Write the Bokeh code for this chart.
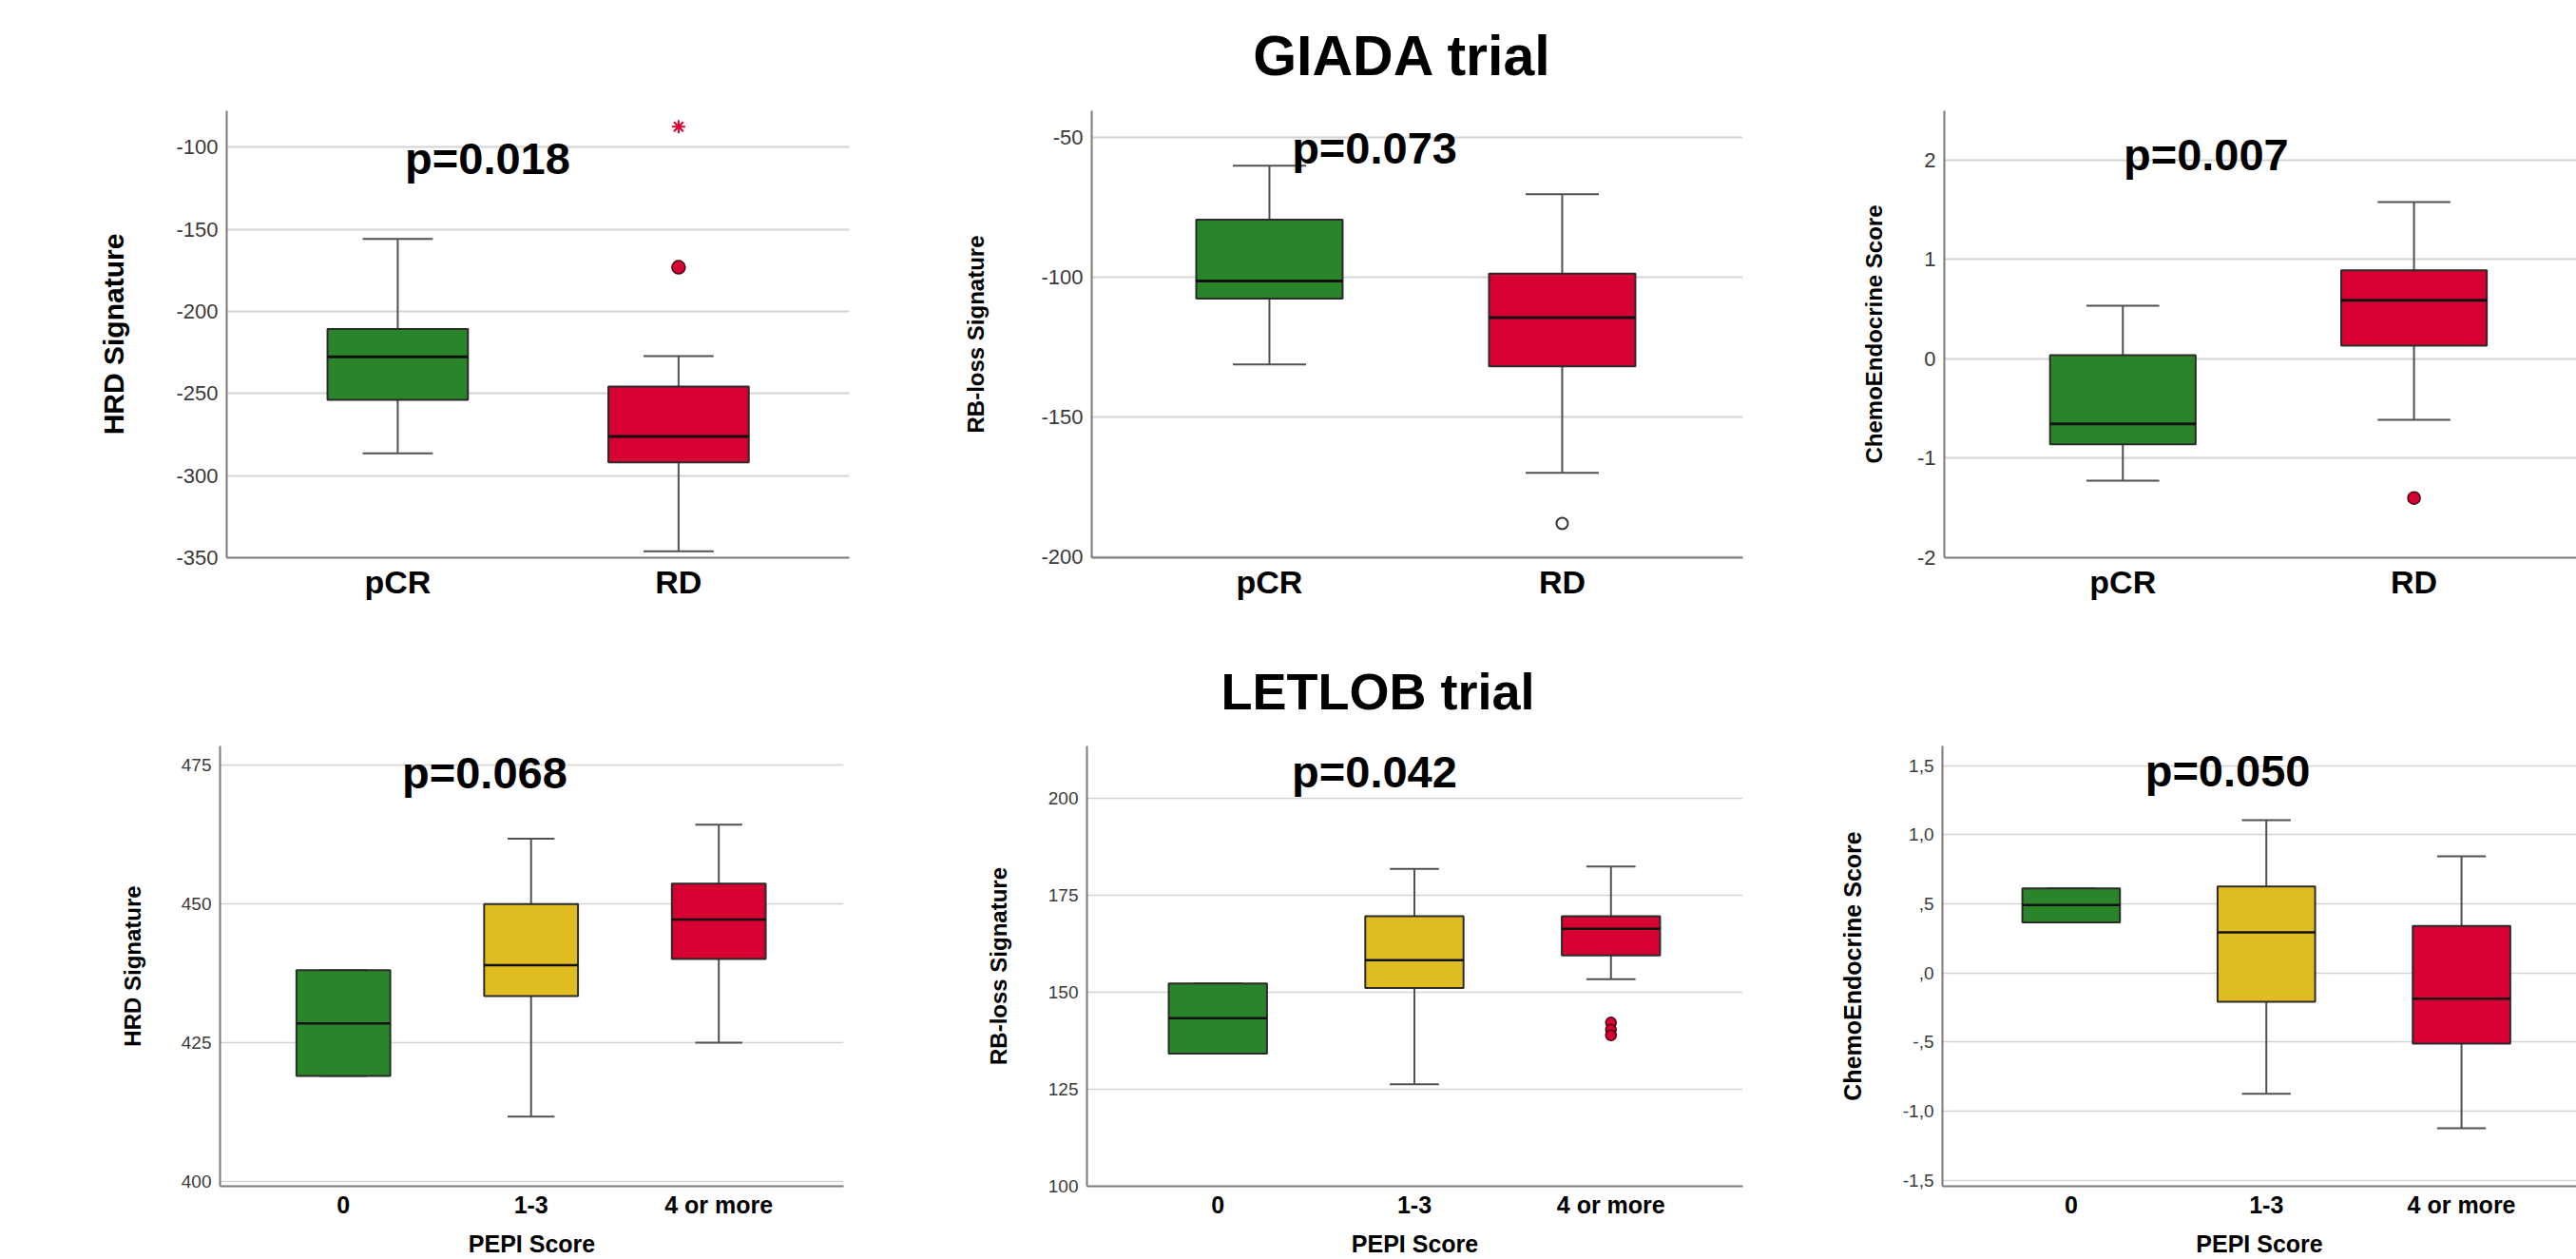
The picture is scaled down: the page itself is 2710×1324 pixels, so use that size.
import numpy as np
from bokeh.plotting import figure
from bokeh.models import Range1d, FixedTicker, Label
from bokeh.layouts import row, column
from bokeh.embed import file_html
from bokeh.resources import INLINE

# ---------------- data ----------------
giada_groups = ["pCR", "RD"]
letlob_groups = ["0", "1-3", "4 or more"]

hrd_giada_lo = [-286.5, -346.1]
hrd_giada_q1 = [-253.9, -292.0]
hrd_giada_med = [-227.7, -276.2]
hrd_giada_q3 = [-210.8, -245.8]
hrd_giada_hi = [-155.9, -227.3]
hrd_giada_out_circle = [("RD", -173.2)]
hrd_giada_out_star = [("RD", -87.6)]

rb_giada_lo = [-131.2, -170.0]
rb_giada_q1 = [-107.7, -131.9]
rb_giada_med = [-101.4, -114.5]
rb_giada_q3 = [-79.4, -98.7]
rb_giada_hi = [-60.1, -70.3]
rb_giada_out_open = [("RD", -188.1)]

ce_giada_lo = [-1.225, -0.613]
ce_giada_q1 = [-0.859, 0.132]
ce_giada_med = [-0.654, 0.589]
ce_giada_q3 = [0.036, 0.890]
ce_giada_hi = [0.535, 1.576]
ce_giada_out_circle = [("RD", -1.399)]

hrd_letlob_lo = [419.0, 411.7, 425.0]
hrd_letlob_q1 = [419.0, 433.4, 440.1]
hrd_letlob_med = [428.5, 439.0, 447.2]
hrd_letlob_q3 = [438.1, 450.0, 453.7]
hrd_letlob_hi = [438.1, 461.8, 464.3]

rb_letlob_lo = [134.2, 126.3, 153.4]
rb_letlob_q1 = [134.2, 151.1, 159.5]
rb_letlob_med = [143.3, 158.3, 166.4]
rb_letlob_q3 = [152.3, 169.6, 169.6]
rb_letlob_hi = [152.3, 181.8, 182.4]
rb_letlob_out_circle = [("4 or more", 142.2), ("4 or more", 140.4), ("4 or more", 138.9)]

ce_letlob_lo = [0.366, -0.873, -1.123]
ce_letlob_q1 = [0.366, -0.208, -0.510]
ce_letlob_med = [0.492, 0.295, -0.186]
ce_letlob_q3 = [0.613, 0.627, 0.340]
ce_letlob_hi = [0.613, 1.106, 0.844]

hrd_giada_ticks = [-350, -300, -250, -200, -150, -100]
rb_giada_ticks = [-200, -150, -100, -50]
ce_giada_ticks = [-2, -1, 0, 1, 2]
hrd_letlob_ticks = [400, 425, 450, 475]
rb_letlob_ticks = [100, 125, 150, 175, 200]
ce_letlob_ticks = [-1.5, -1.0, -0.5, 0.0, 0.5, 1.0, 1.5]
ce_letlob_tick_labels = ["-1,5", "-1,0", "-,5", ",0", ",5", "1,0", "1,5"]

p_values = ["p=0.018", "p=0.073", "p=0.007", "p=0.068", "p=0.042", "p=0.050"]
trial_titles = ["GIADA trial", "LETLOB trial"]

# ---------------- style ----------------
GREEN = "#2a852a"
RED = "#d70032"
YELLOW = "#dfbd20"
SANS = "Liberation Sans"
GRID = "#d4d4d4"
AXIS = "#7a7a7a"
TICKC = "#3a3a3a"
W_TOTAL = 2710


def key(t):
    return int(t) if float(t).is_integer() else t


def make_panel(w, h, borders, xr, yr, cats, colors, lo, q1, med, q3, hi,
               yticks, ylabels, ylabel, ylab_size, ylab_standoff,
               tick_size, cat_size, cat_standoff, xlabel=None, xlab_size=25,
               xlab_standoff=10, grid_w=2, med_w=3):
    p = figure(width=w, height=h, x_range=Range1d(*xr), y_range=Range1d(*yr),
               title=None, output_backend="svg", toolbar_location=None, tools="",
               min_border_left=borders[0], min_border_right=borders[1],
               min_border_top=borders[2], min_border_bottom=borders[3])
    p.outline_line_color = None
    p.background_fill_color = "white"
    p.border_fill_color = "white"
    p.xgrid.visible = False
    p.ygrid.ticker = FixedTicker(ticks=yticks)
    p.ygrid.grid_line_color = GRID
    p.ygrid.grid_line_width = grid_w

    idx = np.arange(len(cats), dtype=float)
    half_box = 0.25
    half_cap = 0.125

    p.segment(x0=idx, x1=idx, y0=q3, y1=hi, line_color="#505050", line_width=2)
    p.segment(x0=idx, x1=idx, y0=q1, y1=lo, line_color="#505050", line_width=2)
    p.segment(x0=idx - half_cap, x1=idx + half_cap, y0=hi, y1=hi,
              line_color="#505050", line_width=2)
    p.segment(x0=idx - half_cap, x1=idx + half_cap, y0=lo, y1=lo,
              line_color="#505050", line_width=2)
    p.vbar(x=idx, width=2 * half_box, top=q3, bottom=q1, fill_color=colors,
           line_color="#2b2b2b", line_width=2)
    p.segment(x0=idx - half_box, x1=idx + half_box, y0=med, y1=med,
              line_color="#111111", line_width=med_w)

    ya = p.yaxis[0]
    ya.ticker = FixedTicker(ticks=yticks)
    ya.major_label_overrides = {key(t): l for t, l in zip(yticks, ylabels)}
    ya.axis_label = ylabel
    ya.axis_label_text_font = SANS
    ya.axis_label_text_font_style = "bold"
    ya.axis_label_text_font_size = f"{ylab_size}px"
    ya.axis_label_text_color = "black"
    ya.axis_label_standoff = ylab_standoff
    ya.major_label_text_font = SANS
    ya.major_label_text_font_size = f"{tick_size}px"
    ya.major_label_text_color = TICKC
    ya.major_label_standoff = 9
    ya.major_tick_out = 0
    ya.major_tick_in = 0
    ya.minor_tick_out = 0
    ya.minor_tick_in = 0
    ya.axis_line_color = AXIS
    ya.axis_line_width = 2

    xa = p.xaxis[0]
    xa.ticker = FixedTicker(ticks=list(range(len(cats))))
    xa.major_label_overrides = {i: c for i, c in enumerate(cats)}
    xa.major_label_text_font = SANS
    xa.major_label_text_font_style = "bold"
    xa.major_label_text_font_size = f"{cat_size}px"
    xa.major_label_text_color = "black"
    xa.major_label_standoff = cat_standoff
    xa.major_tick_out = 0
    xa.major_tick_in = 0
    xa.minor_tick_out = 0
    xa.minor_tick_in = 0
    xa.axis_line_color = AXIS
    xa.axis_line_width = 2
    if xlabel:
        xa.axis_label = xlabel
        xa.axis_label_text_font = SANS
        xa.axis_label_text_font_style = "bold"
        xa.axis_label_text_font_size = f"{xlab_size}px"
        xa.axis_label_text_color = "black"
        xa.axis_label_standoff = xlab_standoff
    return p


def add_outliers(p, cats, pts, **kw):
    xs = [cats.index(c) for c, _ in pts]
    ys = [v for _, v in pts]
    p.scatter(x=xs, y=ys, **kw)


def add_text(p, txt, x, y, size):
    p.add_layout(Label(x=x, y=y, text=txt, text_font=SANS, text_font_style="bold",
                       text_font_size=f"{size}px", text_align="center",
                       text_baseline="alphabetic", text_color="black"))


def title_strip(h, txt, x, y, size):
    t = figure(width=W_TOTAL, height=h, x_range=Range1d(0, W_TOTAL),
               y_range=Range1d(0, h), title=None, output_backend="svg",
               toolbar_location=None, tools="",
               min_border_left=0, min_border_right=0,
               min_border_top=0, min_border_bottom=0,
               x_axis_location=None, y_axis_location=None)
    t.outline_line_color = None
    t.grid.visible = False
    t.background_fill_color = "white"
    t.border_fill_color = "white"
    add_text(t, txt, x, y, size)
    return t


g_cols = [GREEN, RED]
l_cols = [GREEN, YELLOW, RED]
P_SIZE = 47

# top row (page y 96..682); frames share top/bottom borders within a row
p1 = make_panel(1000, 586, (238, 107, 20, 96), (-0.609, 1.608), (-350, -77.9),
                giada_groups, g_cols, hrd_giada_lo, hrd_giada_q1, hrd_giada_med,
                hrd_giada_q3, hrd_giada_hi, hrd_giada_ticks,
                [str(t) for t in hrd_giada_ticks], "HRD Signature", 30, 46,
                22, 34, 6)
add_outliers(p1, giada_groups, hrd_giada_out_circle, marker="circle", size=14,
             fill_color=RED, line_color="#4a0010", line_width=1.5)
add_outliers(p1, giada_groups, hrd_giada_out_star, marker="asterisk", size=14,
             line_color=RED, line_width=2)
add_text(p1, p_values[0], 0.320, -106.6, P_SIZE)

p2 = make_panel(925, 586, (148, 92, 20, 96), (-0.607, 1.617), (-200.34, -40.5),
                giada_groups, g_cols, rb_giada_lo, rb_giada_q1, rb_giada_med,
                rb_giada_q3, rb_giada_hi, rb_giada_ticks,
                [str(t) for t in rb_giada_ticks], "RB-loss Signature", 24, 52,
                22, 34, 6)
add_outliers(p2, giada_groups, rb_giada_out_open, marker="circle", size=12,
             fill_color="white", line_color="#333333", line_width=2)
add_text(p2, p_values[1], 0.359, -53.6, P_SIZE)

p3 = make_panel(785, 586, (120, 0, 20, 96), (-0.613, 1.558), (-2, 2.495),
                giada_groups, g_cols, ce_giada_lo, ce_giada_q1, ce_giada_med,
                ce_giada_q3, ce_giada_hi, ce_giada_ticks,
                [str(t) for t in ce_giada_ticks], "ChemoEndocrine Score", 24, 29,
                22, 34, 6)
add_outliers(p3, giada_groups, ce_giada_out_circle, marker="circle", size=13,
             fill_color=RED, line_color="#4a0010", line_width=1.5)
add_text(p3, p_values[2], 0.286, 2.056, P_SIZE)

# bottom row (page y 770..1324)
p4 = make_panel(1000, 554, (231, 113, 14, 75), (-0.657, 2.665), (399.13, 478.5),
                letlob_groups, l_cols, hrd_letlob_lo, hrd_letlob_q1, hrd_letlob_med,
                hrd_letlob_q3, hrd_letlob_hi, hrd_letlob_ticks,
                [str(t) for t in hrd_letlob_ticks], "HRD Signature", 24, 35,
                19, 25, 5, xlabel="PEPI Score", grid_w=1.5, med_w=2.5)
add_text(p4, p_values[3], 0.753, 473.74, P_SIZE)

p5 = make_panel(925, 554, (143, 92, 14, 75), (-0.666, 2.671), (100, 213.5),
                letlob_groups, l_cols, rb_letlob_lo, rb_letlob_q1, rb_letlob_med,
                rb_letlob_q3, rb_letlob_hi, rb_letlob_ticks,
                [str(t) for t in rb_letlob_ticks], "RB-loss Signature", 24, 36,
                19, 25, 5, xlabel="PEPI Score", grid_w=1.5, med_w=2.5)
add_outliers(p5, letlob_groups, rb_letlob_out_circle, marker="circle", size=11,
             fill_color=RED, line_color="#4a0010", line_width=1.5)
add_text(p5, p_values[4], 0.797, 206.86, P_SIZE)

p6 = make_panel(785, 554, (118, 0, 14, 75), (-0.6595, 2.589), (-1.543, 1.643),
                letlob_groups, l_cols, ce_letlob_lo, ce_letlob_q1, ce_letlob_med,
                ce_letlob_q3, ce_letlob_hi, ce_letlob_ticks, ce_letlob_tick_labels,
                "ChemoEndocrine Score", 25, 36, 19, 25, 5, xlabel="PEPI Score",
                grid_w=1.5, med_w=2.5)
add_text(p6, p_values[5], 0.802, 1.461, P_SIZE)

t1 = title_strip(96, trial_titles[0], 1475, 37.8, 59)
t2 = title_strip(88, trial_titles[1], 1449, 43.4, 54)

layout = column(t1, row(p1, p2, p3), t2, row(p4, p5, p6))

with open("out.html", "w") as f:
    f.write(file_html(layout, INLINE))
